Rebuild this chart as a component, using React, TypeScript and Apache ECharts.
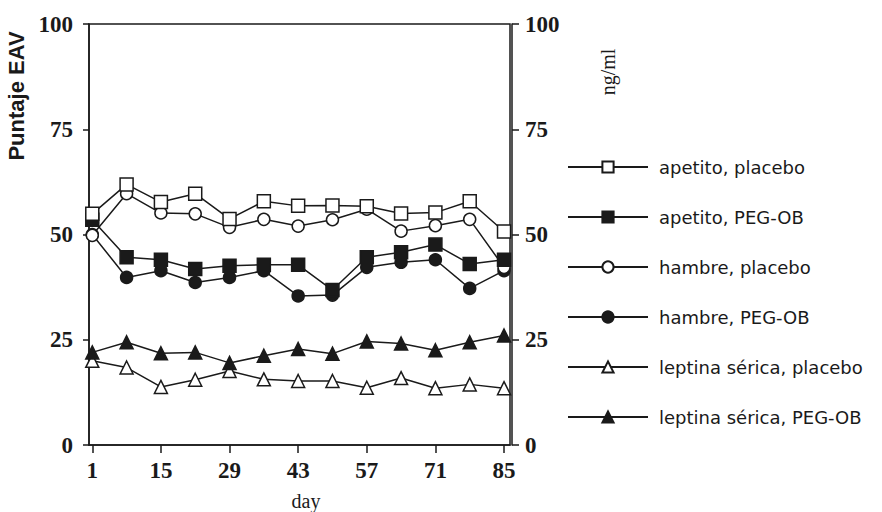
import React, { useEffect, useRef } from "react";
import * as echarts from "echarts";

const days = [1, 8, 15, 22, 29, 36, 43, 50, 57, 64, 71, 78, 85];
const tickDays = [1, 15, 29, 43, 57, 71, 85];

const apetitoPlacebo = [54.9, 61.9, 57.7, 59.7, 53.7, 57.9, 56.8, 56.9, 56.7, 55.0, 55.2, 57.9, 50.7];
const apetitoPegOb = [53.5, 44.6, 44.0, 41.8, 42.6, 42.8, 42.8, 36.8, 44.6, 45.8, 47.6, 43.0, 44.0];
const hambrePlacebo = [49.8, 59.7, 55.1, 54.9, 51.7, 53.6, 52.0, 53.5, 56.0, 50.8, 52.1, 53.6, 42.2];
const hambrePegOb = [50.0, 39.8, 41.4, 38.6, 39.8, 41.4, 35.4, 35.6, 42.2, 43.4, 44.0, 37.2, 41.4];
const leptinaPlacebo = [20.0, 18.4, 13.8, 15.5, 17.6, 15.6, 15.2, 15.2, 13.6, 15.9, 13.5, 14.4, 13.5];
const leptinaPegOb = [22.0, 24.4, 21.8, 22.0, 19.5, 21.2, 22.8, 21.7, 24.6, 24.1, 22.5, 24.4, 26.0];

const seriesNames = [
  "apetito, placebo",
  "apetito, PEG-OB",
  "hambre, placebo",
  "hambre, PEG-OB",
  "leptina sérica, placebo",
  "leptina sérica, PEG-OB",
];

const INK = "#1a1a1a";
const SERIF = "'Liberation Serif', 'Times New Roman', serif";
const SANS = "'DejaVu Sans', Verdana, sans-serif";

function mk(name: string, values: number[], symbol: string, filled: boolean, size: number, z: number) {
  return {
    name,
    type: "line",
    data: days.map((d, i) => [d, values[i]]),
    symbol,
    symbolSize: size,
    showAllSymbol: true,
    z,
    lineStyle: { color: INK, width: 1.5 },
    itemStyle: { color: filled ? INK : "#ffffff", borderColor: INK, borderWidth: 1.5 },
    emphasis: { disabled: true },
  };
}

export default function App() {
  const ref = useRef<HTMLDivElement>(null);
  useEffect(() => {
    if (!ref.current) return;
    const chart = echarts.init(ref.current, null, { renderer: "svg" });
    chart.setOption({
      animation: false,
      backgroundColor: "#ffffff",
      grid: {
        left: 89,
        right: 372,
        top: 24,
        bottom: 67,
        show: true,
        borderColor: INK,
        borderWidth: 1.5,
        backgroundColor: "transparent",
      },
      legend: {
        orient: "vertical",
        left: 567,
        top: 158,
        padding: 0,
        itemWidth: 80,
        itemHeight: 14,
        itemGap: 32,
        data: seriesNames,
        selectedMode: false,
        textStyle: { fontFamily: SANS, fontSize: 18, color: INK, padding: [0, 0, 0, 6] },
      },
      xAxis: {
        type: "value",
        min: 0.33,
        max: 86.22,
        axisLine: { show: true, lineStyle: { color: INK, width: 1.5 } },
        axisTick: { show: true, length: 8, customValues: tickDays, lineStyle: { color: INK, width: 1.5 } },
        axisLabel: {
          customValues: tickDays,
          margin: 14,
          fontFamily: SERIF,
          fontWeight: "bold",
          fontSize: 23,
          color: INK,
        },
        splitLine: { show: false },
      },
      yAxis: [
        {
          type: "value",
          min: 0,
          max: 100,
          interval: 25,
          position: "left",
          axisLine: { show: true, lineStyle: { color: INK, width: 1.5 } },
          axisTick: { show: true, length: 6, lineStyle: { color: INK, width: 1.5 } },
          axisLabel: { margin: 16, fontFamily: SERIF, fontWeight: "bold", fontSize: 23, color: INK },
          splitLine: { show: false },
        },
        {
          type: "value",
          min: 0,
          max: 100,
          interval: 25,
          position: "right",
          offset: 2,
          axisLine: { show: true, lineStyle: { color: INK, width: 1.5 } },
          axisTick: { show: true, length: 7, lineStyle: { color: INK, width: 1.5 } },
          axisLabel: { margin: 13, fontFamily: SERIF, fontWeight: "bold", fontSize: 23, color: INK },
          splitLine: { show: false },
        },
      ],
      series: [
        mk(seriesNames[0], apetitoPlacebo, "rect", false, 13, 6),
        mk(seriesNames[1], apetitoPegOb, "rect", true, 13, 5),
        mk(seriesNames[2], hambrePlacebo, "circle", false, 12, 4),
        mk(seriesNames[3], hambrePegOb, "circle", true, 12, 3),
        mk(seriesNames[4], leptinaPlacebo, "triangle", false, 13, 2),
        mk(seriesNames[5], leptinaPegOb, "triangle", true, 13, 2),
      ],
      graphic: [
        {
          type: "text",
          x: 16,
          y: 96,
          rotation: Math.PI / 2,
          style: {
            text: "Puntaje EAV",
            fontFamily: "'Liberation Sans', Arial, sans-serif",
            fontWeight: "bold",
            fontSize: 22,
            fill: INK,
            align: "center",
            verticalAlign: "middle",
          },
        },
        {
          type: "text",
          x: 608,
          y: 72,
          rotation: Math.PI / 2,
          style: {
            text: "ng/ml",
            fontFamily: SERIF,
            fontSize: 20,
            fill: INK,
            align: "center",
            verticalAlign: "middle",
          },
        },
        {
          type: "text",
          x: 306,
          y: 501,
          style: {
            text: "day",
            fontFamily: SERIF,
            fontSize: 20,
            fill: INK,
            align: "center",
            verticalAlign: "middle",
          },
        },
      ],
    });
    return () => chart.dispose();
  }, []);
  return (
    <div
      ref={ref}
      style={{ position: "fixed", left: 0, top: 0, width: 882, height: 512, background: "#fff" }}
    />
  );
}
